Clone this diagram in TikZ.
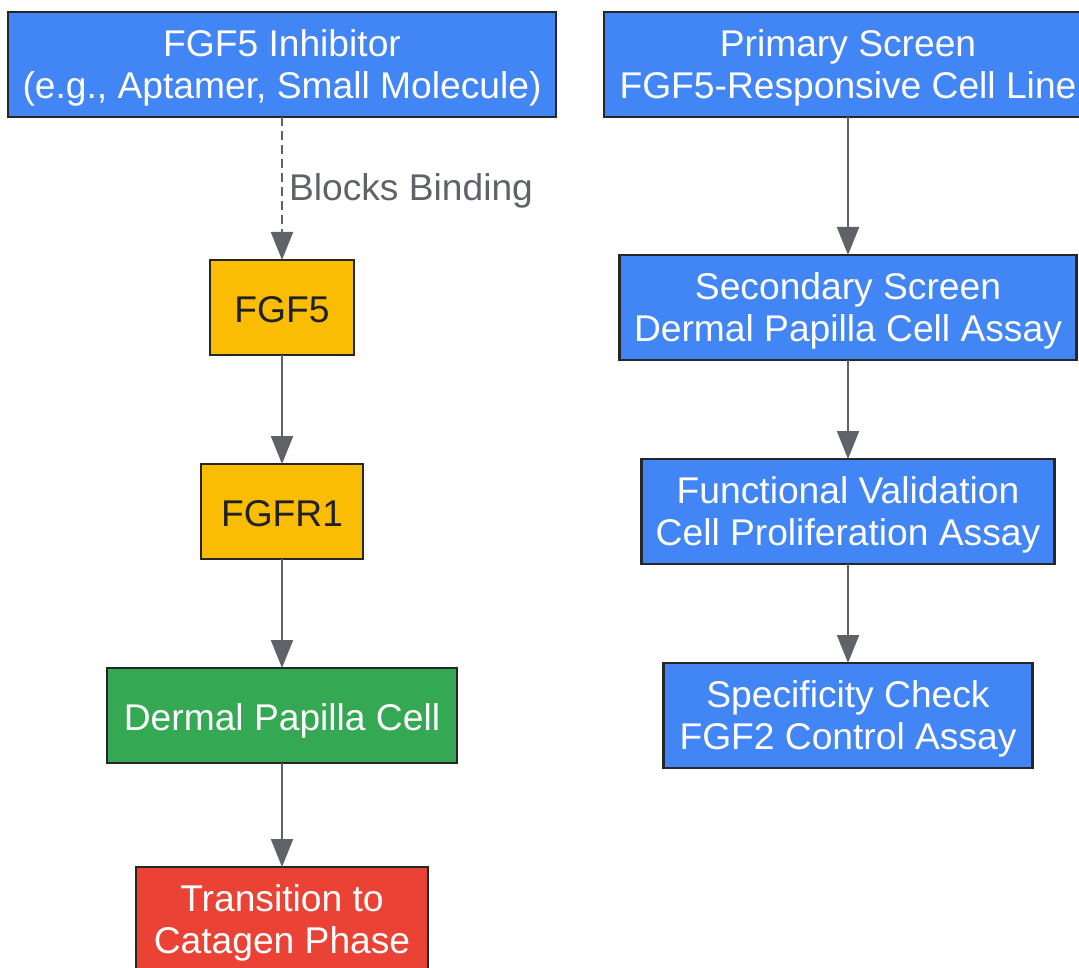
\documentclass[tikz,border=0pt]{standalone}
\usepackage{fontspec}
\setmainfont{Liberation Sans}
\usepackage{tikz}
\usetikzlibrary{arrows.meta,positioning}

\definecolor{gblue}{HTML}{4285F4}
\definecolor{gyellow}{HTML}{FBBC04}
\definecolor{ggreen}{HTML}{34A853}
\definecolor{gred}{HTML}{EA4335}
\definecolor{edgegray}{HTML}{5F6368}
\definecolor{framegray}{HTML}{262626}
\definecolor{darktext}{HTML}{202124}

\tikzset{
    box/.style={draw=framegray, line width=1.3pt, rectangle, align=center,
        outer sep=0pt, inner sep=2pt,
        font=\fontsize{18.6}{21}\selectfont},
    twoline/.style={box, minimum height=52.5pt, text depth=0pt},
    oneline/.style={box, minimum height=47.5pt, text height=15pt, text depth=0pt},
    bluebox/.style={fill=gblue, text=white},
    yellowbox/.style={fill=gyellow, text=darktext},
    greenbox/.style={fill=ggreen, text=white},
    redbox/.style={fill=gred, text=white},
    link/.style={draw=edgegray, line width=1pt,
        -{Triangle[length=14pt,width=11pt]}},
    blocklink/.style={link, dash pattern=on 4.5pt off 2.5pt},
    linklabel/.style={text=edgegray, inner sep=3pt, yshift=-1pt,
        font=\fontsize{18.6}{21}\selectfont}
}

\begin{document}
\begin{tikzpicture}[x=0.5pt, y=-0.5pt]
    \useasboundingbox (0,0) rectangle (1079,967);

    % left column
    \node[twoline, bluebox, minimum width=274pt] (inhibitor) at (282,64.5)
        {FGF5 Inhibitor\\(e.g., Aptamer, Small Molecule)};
    \node[oneline, yellowbox, minimum width=72pt, below=71.5pt of inhibitor] (fgf) {FGF5};
    \node[oneline, yellowbox, minimum width=81pt, below=54.5pt of fgf] (fgfr) {FGFR1};
    \node[oneline, greenbox, minimum width=175pt, below=54.5pt of fgfr] (dpc) {Dermal Papilla Cell};
    \node[twoline, redbox, minimum width=146pt, below=52pt of dpc] (catagen)
        {Transition to\\Catagen Phase};

    % right column
    \node[twoline, bluebox, minimum width=244pt] (primary) at (848,64.5)
        {Primary Screen\\FGF5-Responsive Cell Line};
    \node[twoline, bluebox, minimum width=228.5pt, below=69pt of primary] (secondary)
        {Secondary Screen\\Dermal Papilla Cell Assay};
    \node[twoline, bluebox, minimum width=206.5pt, below=49.5pt of secondary] (functional)
        {Functional Validation\\Cell Proliferation Assay};
    \node[twoline, bluebox, minimum width=184.5pt, below=49.5pt of functional] (specificity)
        {Specificity Check\\FGF2 Control Assay};

    \draw[blocklink] (inhibitor) -- node[linklabel, right] {Blocks Binding} (fgf);
    \draw[link] (fgf) -- (fgfr);
    \draw[link] (fgfr) -- (dpc);
    \draw[link] (dpc) -- (catagen);

    \draw[link] (primary) -- (secondary);
    \draw[link] (secondary) -- (functional);
    \draw[link] (functional) -- (specificity);
\end{tikzpicture}
\end{document}
